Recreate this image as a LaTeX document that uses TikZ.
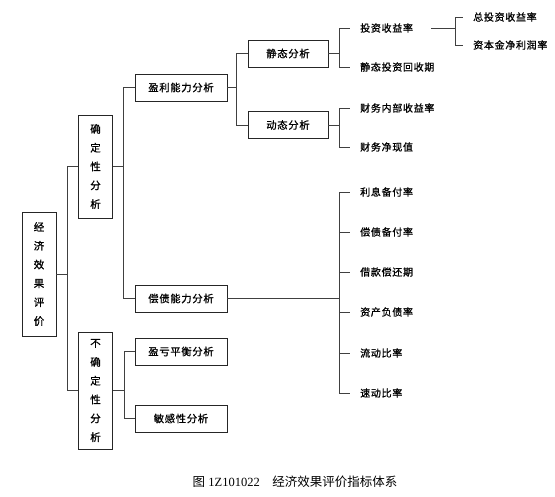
\documentclass[tikz,border=0pt]{standalone}
\usepackage{fontspec}
\setmainfont{Liberation Serif}
\newfontfamily\cjk[LetterSpace=7,FakeBold=1]{Noto Sans CJK SC}
\newfontfamily\cjkcap{Noto Sans CJK SC}
\usetikzlibrary{positioning}

\begin{document}
\begin{tikzpicture}[
    x=1pt, y=-1pt,
    vbox/.style={rectangle, draw=black!85, line width=0.8pt, align=center,
        minimum width=34pt, inner ysep=7pt, font=\cjk\fontsize{10.5}{18.8}\selectfont},
    hbox/.style={rectangle, draw=black!85, line width=0.8pt, align=center,
        minimum height=27pt, font=\cjk\fontsize{10.3}{12}\selectfont},
    leaf/.style={anchor=west, inner xsep=10pt, inner ysep=2pt, font=\cjk\fontsize{10}{12}\selectfont},
    conn/.style={black!75, line width=0.6pt}
]
\useasboundingbox (0,0) rectangle (555,497);

% Root
\node[vbox, minimum height=124pt] (root) at (39,274) {经\\济\\效\\果\\评\\价};

% Certain / uncertain analysis
\node[vbox, minimum height=103pt] (sure) at (95.5,166.5) {确\\定\\性\\分\\析};
\node[vbox, minimum height=117pt] (unsure) at (95.5,390.5) {不\\确\\定\\性\\分\\析};

% Second level boxes
\node[hbox, minimum width=92pt] (profit) at (181,87.5) {盈利能力分析};
\node[hbox, minimum width=92pt] (debt) at (181,298.5) {偿债能力分析};
\node[hbox, minimum width=92pt] (breakeven) at (181,351.5) {盈亏平衡分析};
\node[hbox, minimum width=92pt] (sens) at (181,418.5) {敏感性分析};

% Static / dynamic
\node[hbox, minimum width=80pt] (static) at (288,53.5) {静态分析};
\node[hbox, minimum width=80pt] (dynamic) at (288,125) {动态分析};

% Indicators
\node[leaf] (roi) at (350,28) {投资收益率};
\node[leaf] (payback) at (350,67) {静态投资回收期};
\node[leaf] (irr) at (350,108) {财务内部收益率};
\node[leaf] (npv) at (350,147) {财务净现值};
\node[leaf] (interest) at (350,192) {利息备付率};
\node[leaf] (debtcov) at (350,232) {偿债备付率};
\node[leaf] (loanpay) at (350,272) {借款偿还期};
\node[leaf] (assetliab) at (350,312) {资产负债率};
\node[leaf] (current) at (350,353) {流动比率};
\node[leaf] (quick) at (350,393) {速动比率};
\node[leaf] (totalroi) at (463,17) {总投资收益率};
\node[leaf] (capital) at (463,45) {资本金净利润率};

% Arrows
\draw[conn] (root.east) -- ++(11,0) coordinate (j0);
\draw[conn] (j0) |- (sure.west);
\draw[conn] (j0) |- (unsure.west);
\draw[conn] (sure.east) -- ++(10,0) coordinate (j1);
\draw[conn] (j1) |- (profit.west);
\draw[conn] (j1) |- (debt.west);
\draw[conn] (unsure.east) -- ++(11,0) coordinate (j2);
\draw[conn] (j2) |- (breakeven.west);
\draw[conn] (j2) |- (sens.west);
\draw[conn] (profit.east) -- ++(9,0) coordinate (j3);
\draw[conn] (j3) |- (static.west);
\draw[conn] (j3) |- (dynamic.west);
\draw[conn] (static.east) -- ++(11,0) coordinate (j4);
\draw[conn] (j4) |- (roi.west);
\draw[conn] (j4) |- (payback.west);
\draw[conn] (dynamic.east) -- ++(11,0) coordinate (j5);
\draw[conn] (j5) |- (irr.west);
\draw[conn] (j5) |- (npv.west);
\draw[conn] (debt.east) -- ++(112,0) coordinate (j6);
\foreach \n in {interest, debtcov, loanpay, assetliab, current, quick}
    \draw[conn] (j6) |- (\n.west);
\draw[conn] ([xshift=8pt]roi.east) -- ++(24,0) coordinate (j7);
\draw[conn] (j7) |- (totalroi.west);
\draw[conn] (j7) |- (capital.west);

% Caption
\node[font=\fontsize{12.5}{14}\selectfont] (caption) at (295,482)
    {{\cjkcap 图} 1Z101022\quad{\cjkcap 经济效果评价指标体系}};

\end{tikzpicture}
\end{document}
